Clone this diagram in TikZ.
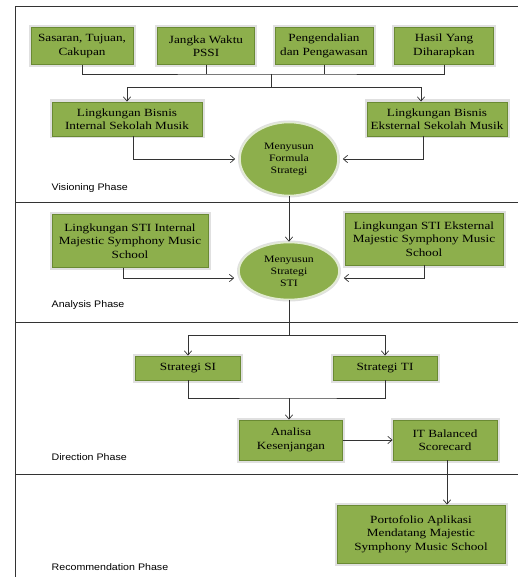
\documentclass[tikz,border=0pt]{standalone}
\usepackage{fontspec}
\setmainfont{Liberation Serif}
\newfontfamily\kotak[FakeStretch=1.2]{Liberation Serif}
\newfontfamily\fase[FakeStretch=1.12]{Liberation Sans}
\usetikzlibrary{positioning,arrows.meta,shapes.geometric}
\definecolor{hijau}{HTML}{8DAF4C}
\definecolor{hijaugelap}{HTML}{6A8A33}
\definecolor{garis}{HTML}{333333}

\begin{document}
\begin{tikzpicture}[x=1pt, y=-1pt, >={Straight Barb[length=1.5mm,width=2.6mm]},
      line width=0.7pt, draw=garis,
      kb/.style={draw=hijaugelap, fill=hijau, line width=0.9pt, align=center, inner sep=1pt,
                 font=\kotak\fontsize{11}{13.5}\selectfont, text=black,
                 preaction={draw=black!12, line width=5pt}},
      el/.style={ellipse, draw=white!75!hijau, fill=hijau, line width=1.6pt, align=center,
                 inner sep=0pt, font=\kotak\fontsize{9.8}{12}\selectfont, text=black,
                 preaction={draw=black!12, line width=4pt}},
      fs/.style={anchor=west, font=\fase\fontsize{9.5}{11}\selectfont, text=black}]
    \useasboundingbox (0,0) rectangle (518,577);
    % frame and phase lines
    \draw[black!80, line width=0.8pt] (518,6) -| (15,577);
    \foreach \y in {202,322,474} \draw[black!80, line width=0.8pt] (15,\y) -- (518,\y);
    \node[fs] (lv) at (48,188) {Visioning Phase};
    \node[fs] (la) at (48,305) {Analysis Phase};
    \node[fs] (ld) at (48,457) {Direction Phase};
    \node[fs] (lr) at (48,567) {Recommendation Phase};
    % visioning
    \node[kb, minimum width=102pt, minimum height=37pt] (t1) at (82,46) {Sasaran, Tujuan,\\Cakupan};
    \node[kb, minimum width=97pt, minimum height=37pt] (t2) at (206,46) {Jangka Waktu\\PSSI};
    \node[kb, minimum width=98pt, minimum height=37pt] (t3) at (324,46) {Pengendalian\\dan Pengawasan};
    \node[kb, minimum width=99pt, minimum height=37pt] (t4) at (444,46) {Hasil Yang\\Diharapkan};
    \node[kb, minimum width=150pt, minimum height=34pt] (b1) at (127,119) {Lingkungan Bisnis\\Internal Sekolah Musik};
    \node[kb, minimum width=140pt, minimum height=34pt] (b2) at (437,119) {Lingkungan Bisnis\\Eksternal Sekolah Musik};
    \node[el, minimum width=98pt, minimum height=73pt] (e1) at (289,159) {Menyusun\\Formula\\Strategi};
    \coordinate (ja) at (271,74);
    \coordinate (jb) at (271,87);
    \draw (t1.south) |- (ja) -| (t4.south);
    \draw (t2.south) -- (t2.south |- ja); \draw (t3.south) -- (t3.south |- ja);
    \draw (ja) -- (jb);
    \draw[->] (jb) -| (b1.north); \draw[->] (jb) -| ([xshift=-16pt]b2.north);
    \draw[->, shorten >=4pt] ([xshift=6pt]b1.south) |- (e1.west);
    \draw[->, shorten >=4pt] ([xshift=-14pt]b2.south) |- (e1.east);
    % analysis
    \node[kb, minimum width=156pt, minimum height=53pt] (s1) at (130,241) {Lingkungan STI Internal\\Majestic Symphony Music\\School};
    \node[kb, minimum width=158pt, minimum height=52pt] (s2) at (424,239) {Lingkungan STI Eksternal\\Majestic Symphony Music\\School};
    \node[el, minimum width=100pt, minimum height=57pt] (e2) at (289,271) {Menyusun\\Strategi\\STI};
    \draw[->] (e1) -- (e2);
    \draw[->, shorten >=4pt] ([xshift=-7pt]s1.south) |- ([yshift=-7pt]e2.west);
    \draw[->, shorten >=4pt] (s2.south) |- ([yshift=-7pt]e2.east);
    % direction
    \node[kb, minimum width=105pt, minimum height=24pt] (d1) at (188,368) {Strategi SI};
    \node[kb, minimum width=104pt, minimum height=24pt] (d2) at (385,368) {Strategi TI};
    \node[kb, minimum width=103pt, minimum height=40pt] (d3) at (291,440) {Analisa\\Kesenjangan};
    \node[kb, minimum width=104pt, minimum height=40pt] (d4) at (445,440) {IT Balanced\\Scorecard};
    \coordinate (jc) at (289,335);
    \coordinate (jd) at (289,398);
    \draw (e2) -- (jc);
    \draw[->] (jc) -| (d1.north); \draw[->] (jc) -| (d2.north);
    \draw (d1.south) |- (jd) -| (d2.south);
    \draw[->] (jd) -- (jd |- d3.north);
    \draw[->] (d3) -- (d4);
    % recommendation
    \node[kb, minimum width=168pt, minimum height=58pt] (r1) at (421,534) {Portofolio Aplikasi\\Mendatang Majestic\\Symphony Music School};
    \draw[->] ([xshift=2pt]d4.south) -- ([xshift=26pt]r1.north);
  \end{tikzpicture}
\end{document}
